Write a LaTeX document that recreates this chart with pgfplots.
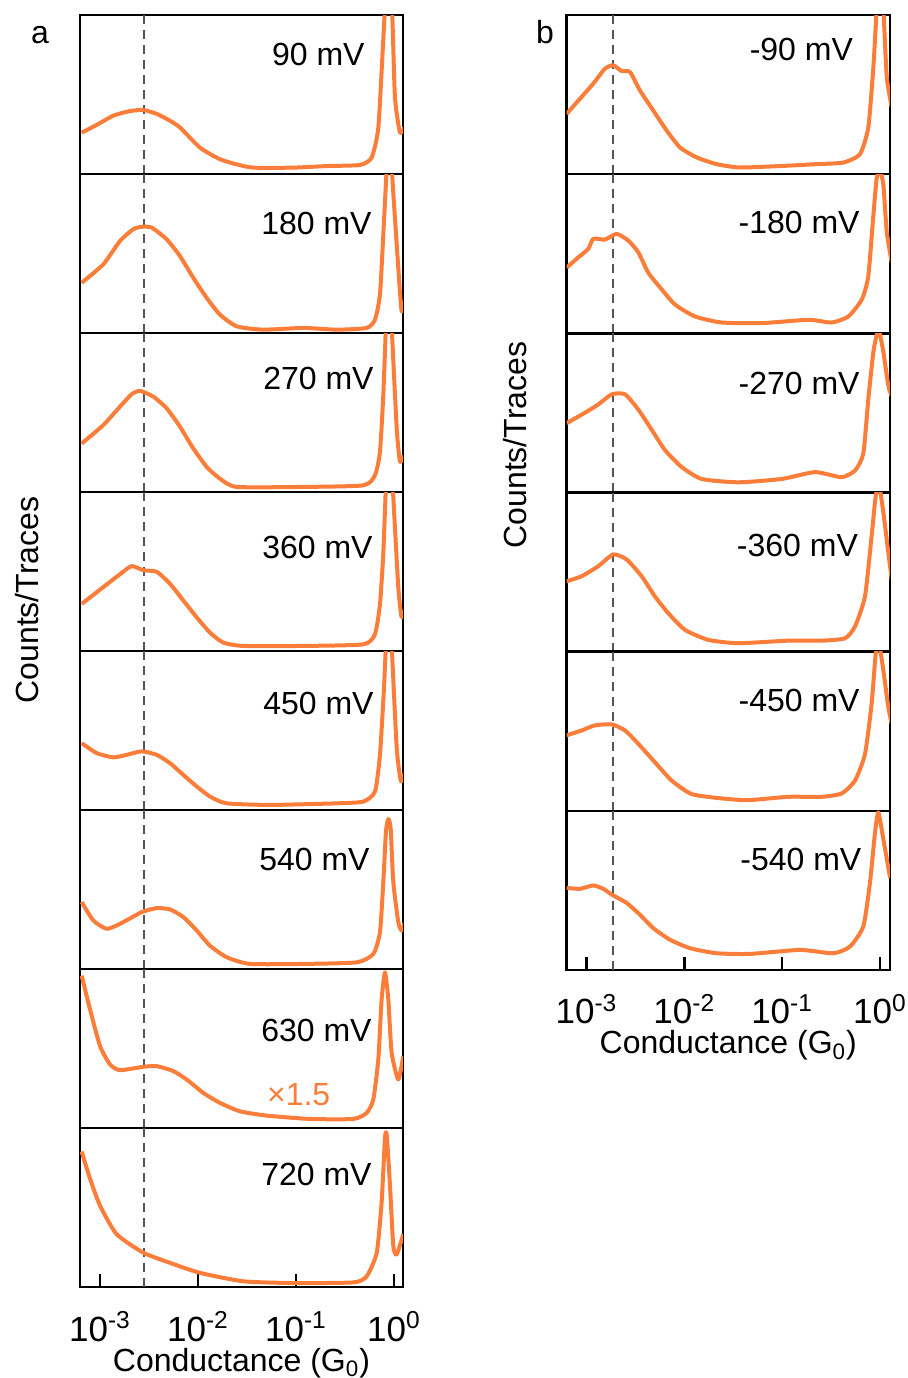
\documentclass[border=0pt]{standalone}
\usepackage{fontspec}
\setmainfont{Liberation Sans}
\usepackage{pgfplots}
\pgfplotsset{compat=1.18}

\definecolor{curve}{RGB}{250,125,58}
\definecolor{dashgray}{RGB}{85,85,85}

% x is log10 of the conductance; y is the panel height, 0 to 1
\pgfplotsset{
  panel/.style={scale only axis, height=79.5pt, xmin=-3.204, ymin=0, ymax=1,
    xtick=\empty, ytick=\empty, axis line style={line width=1.3pt}, anchor=north west,
    font=\fontsize{16}{19}\selectfont},
  panelL/.style={panel, width=161.5pt, xmax=0.092},
  panelR/.style={panel, width=161.75pt, xmax=0.103},
  bottom/.style={xtick={-3,-2,-1,0},
    xticklabels={10\textsuperscript{-3},10\textsuperscript{-2},10\textsuperscript{-1},10\textsuperscript{0}},
    tick align=inside, major tick length=6.5pt, xtick pos=bottom,
    tick style={line width=1.3pt, black},
    xticklabel style={anchor=base, yshift=-27pt, font=\fontsize{17.5}{20}\selectfont},
    xlabel={Conductance (G\textsubscript{0})},
    xlabel style={at={(axis description cs:0.5,0)}, anchor=base, yshift=-42pt}},
  trace/.style={curve, line width=2pt, line join=round, no markers, smooth, tension=0.35},
  guideL/.style={dashgray, line width=1.3pt, dash pattern=on 4.5pt off 3pt},
}

\begin{document}
\begin{tikzpicture}[font=\fontsize{16}{19}\selectfont]
\path[use as bounding box] (0,0) rectangle (454pt,-689pt);

% ---- column a ----
\begin{axis}[panelL, at={(40pt,-7.5pt)}]
\addplot[guideL] coordinates {(-2.551,0) (-2.551,1)};
\addplot[trace] coordinates {(-3.187,0.26) (-3.03,0.31) (-2.864,0.367) (-2.70,0.395) (-2.558,0.403) (-2.421,0.378) (-2.30,0.34) (-2.184,0.293) (-1.980,0.166) (-1.776,0.093) (-1.60,0.06) (-1.436,0.04) (-1.028,0.04) (-0.687,0.05) (-0.347,0.057) (-0.228,0.103) (-0.160,0.29) (-0.115,0.78) (-0.092,1.05) (-0.058,1.5) (-0.017,0.99) (0.010,0.483) (0.061,0.26) (0.112,0.30)};
\end{axis}

\begin{axis}[panelL, at={(40pt,-87pt)}]
\addplot[guideL] coordinates {(-2.551,0) (-2.551,1)};
\addplot[trace] coordinates {(-3.187,0.316) (-2.966,0.432) (-2.796,0.579) (-2.660,0.653) (-2.574,0.668) (-2.472,0.663) (-2.319,0.589) (-2.184,0.484) (-2.048,0.347) (-1.911,0.221) (-1.776,0.116) (-1.605,0.042) (-1.334,0.021) (-0.926,0.032) (-0.585,0.021) (-0.279,0.032) (-0.194,0.084) (-0.143,0.242) (-0.109,0.621) (-0.074,1.05) (-0.051,1.5) (-0.024,1.05) (0.044,0.41) (0.078,0.137) (0.112,0.2)};
\end{axis}

\begin{axis}[panelL, at={(40pt,-166.5pt)}]
\addplot[guideL] coordinates {(-2.551,0) (-2.551,1)};
\addplot[trace] coordinates {(-3.187,0.305) (-2.966,0.421) (-2.796,0.537) (-2.677,0.615) (-2.592,0.636) (-2.456,0.600) (-2.319,0.526) (-2.184,0.411) (-2.048,0.274) (-1.911,0.158) (-1.776,0.084) (-1.605,0.032) (-0.926,0.032) (-0.313,0.042) (-0.194,0.105) (-0.143,0.253) (-0.109,0.61) (-0.082,1.05) (-0.051,1.5) (-0.024,1.05) (0.028,0.40) (0.061,0.19) (0.095,0.23)};
\end{axis}

\begin{axis}[panelL, at={(40pt,-246pt)}]
\addplot[guideL] coordinates {(-2.551,0) (-2.551,1)};
\addplot[trace] coordinates {(-3.187,0.296) (-2.966,0.402) (-2.796,0.483) (-2.677,0.534) (-2.558,0.508) (-2.421,0.498) (-2.286,0.423) (-2.150,0.318) (-2.013,0.212) (-1.878,0.116) (-1.742,0.053) (-1.538,0.032) (-0.926,0.032) (-0.313,0.042) (-0.194,0.106) (-0.143,0.296) (-0.109,0.614) (-0.082,1.05) (-0.051,1.5) (-0.014,1.05) (0.044,0.402) (0.078,0.212) (0.112,0.254)};
\end{axis}

\begin{axis}[panelL, at={(40pt,-325.5pt)}]
\addplot[guideL] coordinates {(-2.551,0) (-2.551,1)};
\addplot[trace] coordinates {(-3.187,0.421) (-3.034,0.358) (-2.864,0.331) (-2.728,0.347) (-2.574,0.369) (-2.421,0.347) (-2.286,0.295) (-2.150,0.221) (-2.013,0.148) (-1.878,0.085) (-1.707,0.042) (-1.265,0.032) (-0.585,0.042) (-0.313,0.053) (-0.194,0.116) (-0.143,0.347) (-0.102,0.768) (-0.082,1.05) (-0.051,1.5) (-0.024,1.05) (0.028,0.39) (0.071,0.18) (0.112,0.24)};
\end{axis}

\begin{axis}[panelL, at={(40pt,-405pt)}]
\addplot[guideL] coordinates {(-2.551,0) (-2.551,1)};
\addplot[trace] coordinates {(-3.187,0.421) (-3.068,0.305) (-2.932,0.253) (-2.796,0.284) (-2.574,0.358) (-2.421,0.383) (-2.286,0.375) (-2.150,0.327) (-2.013,0.242) (-1.878,0.147) (-1.707,0.074) (-1.469,0.032) (-0.926,0.032) (-0.381,0.042) (-0.211,0.095) (-0.143,0.232) (-0.109,0.548) (-0.082,0.864) (-0.058,0.943) (-0.034,0.884) (-0.007,0.548) (0.044,0.295) (0.078,0.242) (0.112,0.295)};
\end{axis}

\begin{axis}[panelL, at={(40pt,-484.5pt)}]
\addplot[guideL] coordinates {(-2.551,0) (-2.551,1)};
\addplot[trace] coordinates {(-3.187,0.958) (-3.102,0.747) (-3.000,0.516) (-2.898,0.400) (-2.796,0.364) (-2.558,0.385) (-2.421,0.389) (-2.252,0.358) (-2.115,0.305) (-1.946,0.221) (-1.776,0.158) (-1.571,0.105) (-1.299,0.078) (-0.857,0.057) (-0.415,0.057) (-0.279,0.095) (-0.211,0.179) (-0.160,0.431) (-0.126,0.81) (-0.092,0.979) (-0.058,0.81) (-0.024,0.474) (0.044,0.305) (0.095,0.452)};
\end{axis}

\begin{axis}[panelL, bottom, at={(40pt,-564pt)}]
\addplot[guideL] coordinates {(-2.551,0) (-2.551,1)};
\addplot[trace] coordinates {(-3.187,0.852) (-3.102,0.682) (-3.000,0.512) (-2.830,0.332) (-2.558,0.216) (-2.286,0.152) (-1.980,0.089) (-1.538,0.036) (-1.028,0.025) (-0.415,0.029) (-0.279,0.067) (-0.176,0.216) (-0.126,0.534) (-0.092,0.936) (-0.074,0.957) (-0.041,0.64) (-0.007,0.258) (0.028,0.205) (0.095,0.333)};
\end{axis}

% ---- column b ----
\begin{axis}[panelR, at={(283.25pt,-7.5pt)}, height=79.58pt]
\addplot[guideL] coordinates {(-2.729,0) (-2.729,1)};
\addplot[trace] coordinates {(-3.202,0.379) (-3.066,0.474) (-2.930,0.569) (-2.811,0.663) (-2.726,0.684) (-2.640,0.648) (-2.555,0.642) (-2.453,0.526) (-2.317,0.40) (-2.180,0.274) (-2.044,0.168) (-1.873,0.105) (-1.669,0.063) (-1.430,0.042) (-0.988,0.052) (-0.646,0.063) (-0.374,0.073) (-0.204,0.126) (-0.119,0.294) (-0.067,0.673) (-0.033,1.05) (0.001,1.5) (0.035,1.05) (0.070,0.61) (0.121,0.42)};
\end{axis}

\begin{axis}[panelR, at={(283.25pt,-87.08pt)}, height=79.58pt]
\addplot[guideL] coordinates {(-2.729,0) (-2.729,1)};
\addplot[trace] coordinates {(-3.202,0.413) (-3.084,0.477) (-2.982,0.530) (-2.930,0.594) (-2.811,0.589) (-2.691,0.625) (-2.573,0.583) (-2.470,0.509) (-2.368,0.381) (-2.231,0.276) (-2.095,0.181) (-1.891,0.106) (-1.618,0.068) (-1.209,0.064) (-0.732,0.085) (-0.493,0.068) (-0.323,0.106) (-0.186,0.212) (-0.119,0.359) (-0.067,0.742) (-0.033,0.975) (0.001,1.02) (0.035,0.933) (0.070,0.636) (0.121,0.445)};
\end{axis}

\begin{axis}[panelR, at={(283.25pt,-166.66pt)}, height=79.58pt]
\addplot[guideL] coordinates {(-2.729,0) (-2.729,1)};
\addplot[trace] coordinates {(-3.202,0.436) (-3.049,0.489) (-2.879,0.553) (-2.742,0.617) (-2.606,0.617) (-2.470,0.521) (-2.333,0.394) (-2.197,0.266) (-2.027,0.160) (-1.822,0.085) (-1.448,0.064) (-1.004,0.085) (-0.664,0.128) (-0.391,0.096) (-0.255,0.138) (-0.170,0.244) (-0.119,0.585) (-0.067,0.883) (-0.033,0.989) (-0.009,1.02) (0.035,0.883) (0.086,0.67) (0.121,0.606)};
\end{axis}

\begin{axis}[panelR, at={(283.25pt,-246.24pt)}, height=79.58pt]
\addplot[guideL] coordinates {(-2.729,0) (-2.729,1)};
\addplot[trace] coordinates {(-3.202,0.442) (-3.049,0.474) (-2.879,0.537) (-2.726,0.611) (-2.589,0.579) (-2.436,0.474) (-2.300,0.347) (-2.164,0.242) (-1.993,0.137) (-1.755,0.074) (-1.448,0.053) (-0.937,0.069) (-0.595,0.069) (-0.357,0.084) (-0.255,0.158) (-0.153,0.347) (-0.085,0.726) (-0.043,0.979) (-0.009,1.05) (0.035,0.874) (0.086,0.621) (0.121,0.453)};
\end{axis}

\begin{axis}[panelR, at={(283.25pt,-325.82pt)}, height=79.58pt]
\addplot[guideL] coordinates {(-2.729,0) (-2.729,1)};
\addplot[trace] coordinates {(-3.202,0.474) (-3.049,0.505) (-2.913,0.537) (-2.742,0.543) (-2.606,0.505) (-2.470,0.421) (-2.300,0.305) (-2.129,0.190) (-1.924,0.105) (-1.618,0.078) (-1.346,0.067) (-0.937,0.088) (-0.595,0.088) (-0.391,0.109) (-0.255,0.190) (-0.153,0.356) (-0.085,0.672) (-0.043,0.987) (-0.009,1.05) (0.035,0.882) (0.086,0.651) (0.121,0.545)};
\end{axis}

\begin{axis}[panelR, bottom, at={(283.25pt,-405.4pt)}, height=79.58pt]
\addplot[guideL] coordinates {(-2.729,0) (-2.729,1)};
\addplot[trace] coordinates {(-3.202,0.516) (-3.066,0.51) (-2.930,0.531) (-2.828,0.51) (-2.742,0.474) (-2.589,0.421) (-2.453,0.347) (-2.317,0.263) (-2.146,0.190) (-1.942,0.137) (-1.669,0.105) (-1.328,0.101) (-0.817,0.126) (-0.477,0.105) (-0.306,0.147) (-0.170,0.274) (-0.102,0.548) (-0.050,0.864) (-0.016,0.99) (0.035,0.821) (0.104,0.579)};
\end{axis}

% bias labels
\node[anchor=base east, inner sep=0] at (182.5pt,-32.5pt) {90 mV};
\node[anchor=base east, inner sep=0] at (186pt,-117.35pt) {180 mV};
\node[anchor=base east, inner sep=0] at (187pt,-194.85pt) {270 mV};
\node[anchor=base east, inner sep=0] at (186.5pt,-279pt) {360 mV};
\node[anchor=base east, inner sep=0] at (187pt,-357.35pt) {450 mV};
\node[anchor=base east, inner sep=0] at (185pt,-435pt) {540 mV};
\node[anchor=base east, inner sep=0] at (186pt,-520.85pt) {630 mV};
\node[anchor=base east, inner sep=0] at (186pt,-592.5pt) {720 mV};
\node[anchor=base west, inner sep=0, text=curve] at (133.35pt,-552.5pt) {×1.5};

\node[anchor=base east, inner sep=0] at (426.65pt,-30pt) {-90 mV};
\node[anchor=base east, inner sep=0] at (430pt,-116.5pt) {-180 mV};
\node[anchor=base east, inner sep=0] at (430pt,-197.35pt) {-270 mV};
\node[anchor=base east, inner sep=0] at (429.15pt,-278.15pt) {-360 mV};
\node[anchor=base east, inner sep=0] at (430pt,-355.65pt) {-450 mV};
\node[anchor=base east, inner sep=0] at (430.85pt,-435pt) {-540 mV};

% panel letters and y labels
\node[anchor=base, inner sep=0] at (20pt,-21.5pt) {a};
\node[anchor=base, inner sep=0] at (272.5pt,-21.5pt) {b};
\node[rotate=90] at (13.5pt,-300pt) {Counts/Traces};
\node[rotate=90] at (257.5pt,-222.5pt) {Counts/Traces};
\end{tikzpicture}
\end{document}
